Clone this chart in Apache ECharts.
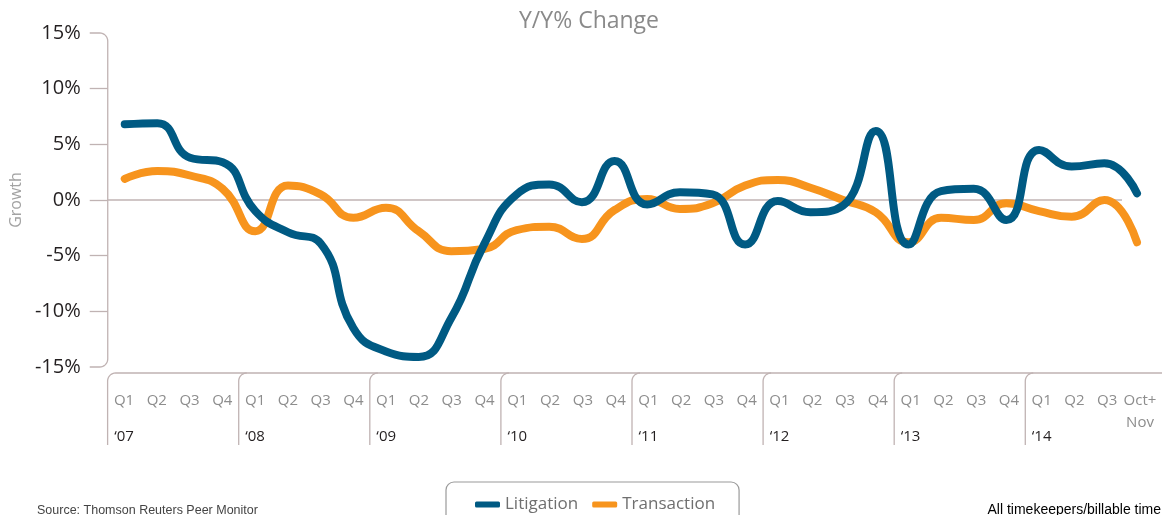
<!DOCTYPE html>
<html><head><meta charset="utf-8">
<script src="https://cdn.jsdelivr.net/npm/echarts@6/dist/echarts.min.js"></script>
<style>html,body{margin:0;padding:0;background:#fff}#c{width:1165px;height:515px}</style>
</head><body><div id="c"></div>
<script>
// ---- data ----
const categories = [
  "‘07 Q1","‘07 Q2","‘07 Q3","‘07 Q4",
  "‘08 Q1","‘08 Q2","‘08 Q3","‘08 Q4",
  "‘09 Q1","‘09 Q2","‘09 Q3","‘09 Q4",
  "‘10 Q1","‘10 Q2","‘10 Q3","‘10 Q4",
  "‘11 Q1","‘11 Q2","‘11 Q3","‘11 Q4",
  "‘12 Q1","‘12 Q2","‘12 Q3","‘12 Q4",
  "‘13 Q1","‘13 Q2","‘13 Q3","‘13 Q4",
  "‘14 Q1","‘14 Q2","‘14 Q3","‘14 Oct+Nov"
];
const litigation = [6.8, 6.9, 3.8, 3.4, -1.0, -2.9, -3.9, -11.5, -13.6, -14.1, -10.6, -4.0,
                    0.5, 1.4, -0.2, 3.5, -0.4, 0.7, 0.5, -4.0, -0.1, -1.1, -0.5, 6.2,
                    -4.0, 0.8, 1.0, -1.8, 4.5, 3.0, 3.3, 0.6];
const transaction = [1.9, 2.6, 2.2, 1.0, -2.8, 1.3, 0.5, -1.6, -0.7, -2.8, -4.6, -4.4,
                     -2.7, -2.4, -3.5, -0.9, 0.1, -0.8, -0.3, 1.3, 1.8, 1.1, 0.0, -1.1,
                     -3.8, -1.6, -1.8, -0.3, -1.0, -1.5, 0.0, -3.8];
const yMin = -15, yMax = 15, yStep = 5;
const innerTicks = [-10, -5, 0, 5, 10];

// ---- style ----
const FONT = "'Open Sans', 'Noto Sans', sans-serif";
const BLUE = '#005a83', ORANGE = '#f7941d', AXIS = '#c0b3b3';
const LABEL_TOP = 373, BRACKET_BOTTOM = 445;

const chart = echarts.init(document.getElementById('c'), null, {renderer: 'canvas'});
const option = {
  animation: false,
  backgroundColor: '#fff',
  title: [
    {text: 'Y/Y% Change', left: 514, top: 5,
     textStyle: {fontFamily: FONT, fontSize: 23, fontWeight: 'normal', color: '#8a8a8a'}},
    {text: 'Source: Thomson Reuters Peer Monitor', left: 37, top: 504, padding: 0,
     textStyle: {fontFamily: "'Liberation Sans', Arial, sans-serif", fontSize: 12.5, fontWeight: 'normal', color: '#444'}},
    {text: 'All timekeepers/billable time', right: 4, top: 503, padding: 0,
     textStyle: {fontFamily: "'Liberation Sans', Arial, sans-serif", fontSize: 14, fontWeight: 'normal', color: '#000'}}
  ],
  legend: {
    left: 446, top: 482,
    padding: [14, 24, 22, 29],
    borderColor: '#9a9a9a', borderWidth: 1.2, borderRadius: 8,
    itemWidth: 25, itemHeight: 6, itemGap: 14, icon: 'roundRect',
    data: ['Litigation', 'Transaction'],
    textStyle: {fontFamily: FONT, fontSize: 17, color: '#6f6f6f'}
  },
  grid: [
    {left: 117, right: 28, top: 33, bottom: 148},
    {left: 124, right: 25, top: LABEL_TOP, bottom: 515 - LABEL_TOP - 1}
  ],
  xAxis: [
    {type: 'category', gridIndex: 0, data: categories, boundaryGap: false,
     axisLine: {show: false}, axisTick: {show: false}, axisLabel: {show: false}, splitLine: {show: false}},
    {type: 'category', gridIndex: 1, data: categories, boundaryGap: false,
     axisLine: {show: false}, axisTick: {show: false}, splitLine: {show: false},
     axisLabel: {
       interval: 0, margin: 16,
       formatter: function (v) {
         const sp = v.indexOf(' ');
         const yr = v.slice(0, sp), q = v.slice(sp + 1);
         if (q === 'Oct+Nov') return '{q|Oct+}\n{q|Nov}';
         if (q === 'Q1') return '{q|Q1}\n{y|' + yr + '}';
         return '{q|' + q + '}';
       },
       rich: {
         q: {fontFamily: FONT, fontSize: 15, color: '#8d8d8d', lineHeight: 22},
         y: {fontFamily: FONT, fontSize: 15, color: '#231f20', lineHeight: 50}
       }
     }}
  ],
  yAxis: [
    {type: 'value', gridIndex: 0, min: yMin, max: yMax, interval: yStep, offset: 17,
     name: 'Growth', nameLocation: 'middle', nameGap: 70, nameRotate: 90,
     nameTextStyle: {fontFamily: FONT, fontSize: 16, color: '#a3a3a3'},
     axisLine: {show: false},
     axisTick: {show: true, length: 18, customValues: innerTicks, lineStyle: {color: AXIS, width: 1.3}},
     axisLabel: {margin: 27, formatter: '{value}%', fontFamily: FONT, fontSize: 20, color: '#231f20'},
     splitLine: {show: false}},
    {type: 'value', gridIndex: 1, show: false}
  ],
  series: [
    {name: 'Transaction', type: 'line', xAxisIndex: 0, yAxisIndex: 0, data: transaction,
     smooth: 0.5, showSymbol: false, symbol: 'none', z: 3,
     itemStyle: {color: ORANGE},
     lineStyle: {color: ORANGE, width: 8, cap: 'round', join: 'round'}},
    {name: 'Litigation', type: 'line', xAxisIndex: 0, yAxisIndex: 0, data: litigation,
     smooth: 0.5, showSymbol: false, symbol: 'none', z: 4,
     itemStyle: {color: BLUE},
     lineStyle: {color: BLUE, width: 8, cap: 'round', join: 'round'}}
  ]
};
chart.setOption(option);

// ---- decorations derived from the axes ----
function arcPts(cx, cy, rad, a0, a1) {
  const pts = [];
  const n = 8;
  for (let k = 0; k <= n; k++) {
    const a = (a0 + (a1 - a0) * k / n) * Math.PI / 180;
    pts.push([cx + rad * Math.cos(a), cy + rad * Math.sin(a)]);
  }
  return pts;
}
const gx0 = chart.convertToPixel({xAxisIndex: 0}, 0);
const axisX = gx0 - 17;
const tickX = axisX - 18;
const yTop = chart.convertToPixel({yAxisIndex: 0}, yMax);
const yBot = chart.convertToPixel({yAxisIndex: 0}, yMin);
const yZero = chart.convertToPixel({yAxisIndex: 0}, 0);
const lastX = chart.convertToPixel({xAxisIndex: 0}, categories.length - 1);
const r = 8;
const graphics = [];
const yAxisPts = [[tickX, yTop]]
  .concat(arcPts(axisX - r, yTop + r, r, -90, 0))
  .concat(arcPts(axisX - r, yBot - r, r, 0, 90))
  .concat([[tickX, yBot]]);
graphics.push({type: 'polyline', z: 1, silent: true,
  shape: {points: yAxisPts},
  style: {stroke: AXIS, lineWidth: 1.3, fill: null}});
graphics.push({type: 'line', z: 1, silent: true,
  shape: {x1: axisX, y1: yZero, x2: lastX - 15, y2: yZero},
  style: {stroke: AXIS, lineWidth: 1.3}});
const lx = i => chart.convertToPixel({xAxisIndex: 1}, i);
const step = lx(1) - lx(0);
const starts = [];
categories.forEach((c, i) => { if (c.endsWith('Q1')) starts.push(lx(i) - step / 2); });
const endX = lx(categories.length - 1) + 22;
starts.forEach((x0, k) => {
  const x1 = k + 1 < starts.length ? starts[k + 1] + r : endX;
  const pts = [[x0, BRACKET_BOTTOM]]
    .concat(arcPts(x0 + r, LABEL_TOP + r, r, 180, 270))
    .concat([[x1, LABEL_TOP]]);
  graphics.push({type: 'polyline', z: 1, silent: true,
    shape: {points: pts},
    style: {stroke: AXIS, lineWidth: 1.3, fill: null}});
});
chart.setOption({graphic: graphics});
</script>
</body></html>
